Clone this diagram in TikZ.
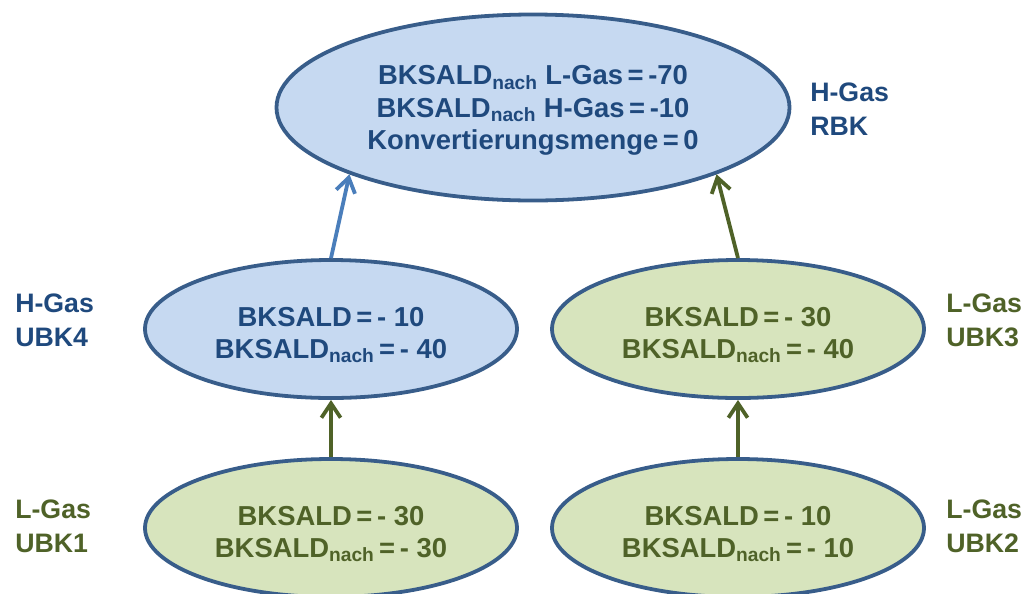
\documentclass[tikz,border=0pt]{standalone}
\usepackage{fontspec}
\setmainfont{Liberation Sans}
\usetikzlibrary{shapes.geometric,arrows.meta,positioning}

\definecolor{rimblue}{HTML}{385D8A}
\definecolor{fillblue}{HTML}{C6D9F1}
\definecolor{fillgreen}{HTML}{D7E4BD}
\definecolor{textblue}{HTML}{1F497D}
\definecolor{textgreen}{HTML}{4F6228}
\definecolor{arrowblue}{HTML}{4A7EBB}

\newcommand{\nach}{\textsubscript{nach}}
% strut on the first line, pushes the text block a little down
\newcommand{\toprule}[1]{\rule{0pt}{#1}}

\tikzset{
  balance/.style={ellipse, draw=rimblue, line width=2.7pt, inner sep=0pt,
    align=center, font=\bfseries\fontsize{19.5}{23}\selectfont},
  hgas/.style={balance, fill=fillblue, text=textblue},
  lgas/.style={balance, fill=fillgreen, text=textgreen},
  tag/.style={anchor=west, inner sep=0pt, align=left,
    font=\bfseries\fontsize{19}{24}\selectfont},
  flow/.style={->, line width=2.7pt},
  >={Straight Barb[length=3.6mm, width=4.8mm]}
}

\begin{document}
\begin{tikzpicture}[x=0.25mm, y=-0.25mm]

% Page frame
\clip (0,0) rectangle (1027,593);

% Balancing group at the top
\node[hgas, minimum width=128.25mm, minimum height=46.5mm] (rbk) at (533,107.5)
  {\toprule{18pt}BKSALD\nach{} L-Gas\,=\,-70\\BKSALD\nach{} H-Gas\,=\,-10\\Konvertierungsmenge\,=\,0};

% Middle level
\node[hgas, minimum width=93mm, minimum height=34.5mm] (ubk4) at (331,329)
  {\toprule{22pt}BKSALD\,=\,- 10\\BKSALD\nach\,=\,- 40};
\node[lgas, minimum width=93mm, minimum height=34.5mm] (ubk3) at (738,329)
  {\toprule{22pt}BKSALD\,=\,- 30\\BKSALD\nach\,=\,- 40};

% Bottom level
\node[lgas, minimum width=93mm, minimum height=34.5mm] (ubk1) at (331,528)
  {\toprule{22pt}BKSALD\,=\,- 30\\BKSALD\nach\,=\,- 30};
\node[lgas, minimum width=93mm, minimum height=34.5mm] (ubk2) at (738,528)
  {\toprule{22pt}BKSALD\,=\,- 10\\BKSALD\nach\,=\,- 10};

% Gas type and name beside each group
\node[tag, text=textblue] (rbk-tag) at (810,109) {H-Gas\\RBK};
\node[tag, text=textblue] (ubk4-tag) at (15,320) {H-Gas\\UBK4};
\node[tag, text=textgreen] (ubk3-tag) at (946,320) {L-Gas\\UBK3};
\node[tag, text=textgreen] (ubk1-tag) at (15,526) {L-Gas\\UBK1};
\node[tag, text=textgreen] (ubk2-tag) at (946,526) {L-Gas\\UBK2};

% Balances passed upwards
\draw[flow, arrowblue] (ubk4.north) -- (rbk.200);
\draw[flow, textgreen] (ubk3.north) -- (rbk.340);
\draw[flow, textgreen] (ubk1.north) -- (ubk4.south);
\draw[flow, textgreen] (ubk2.north) -- (ubk3.south);

\end{tikzpicture}
\end{document}
